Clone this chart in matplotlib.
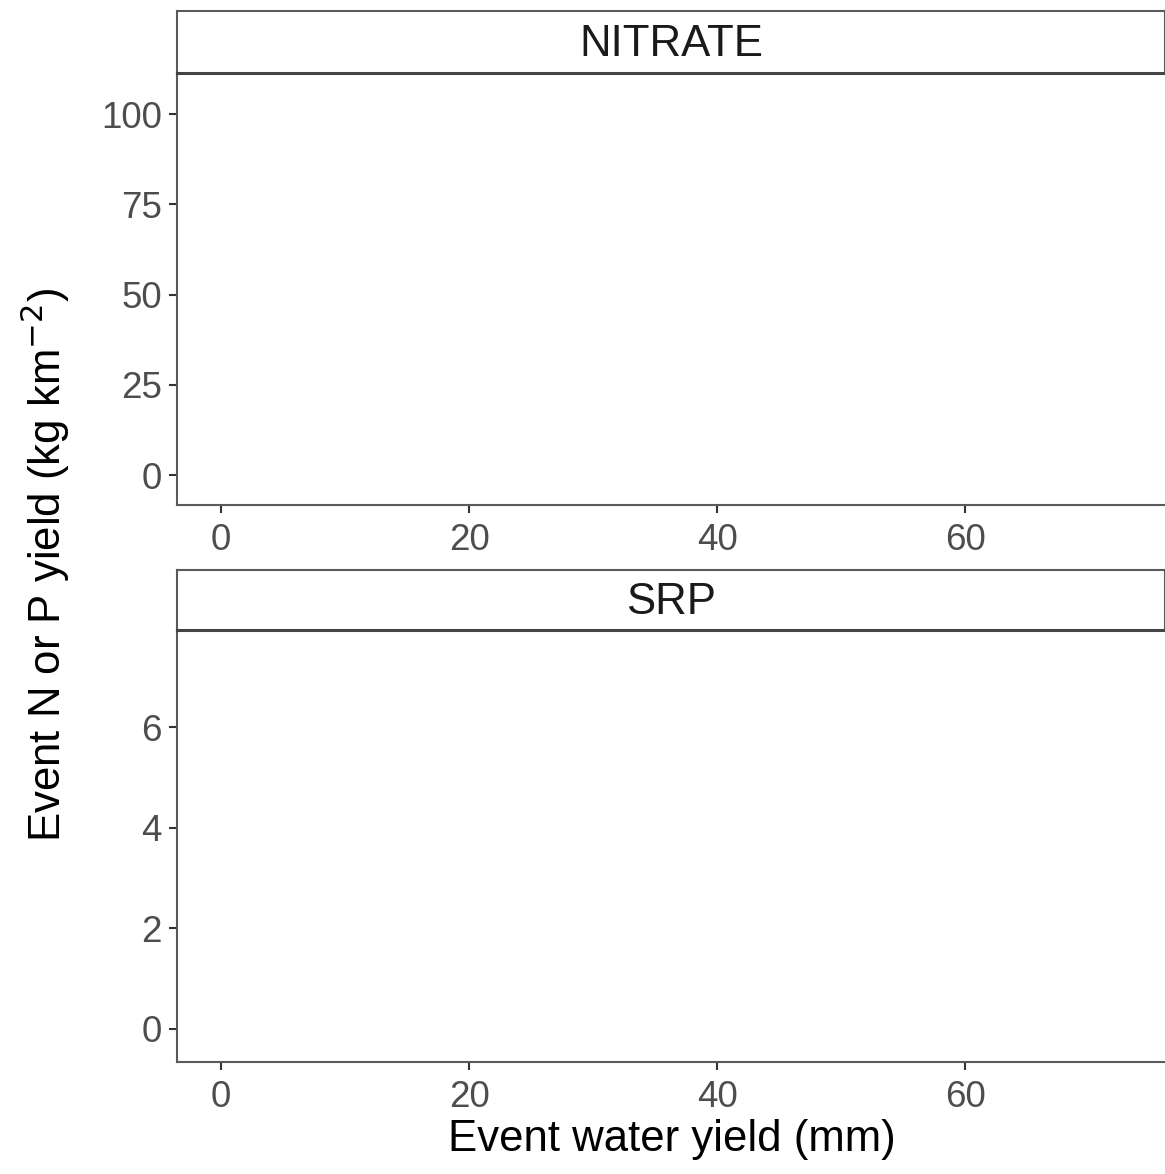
import matplotlib
matplotlib.use('Agg')
import matplotlib.pyplot as plt

plt.rcParams['font.family'] = ['Liberation Sans', 'DejaVu Sans']

# facet panels (no visible points in the source chart)
panels = ['NITRATE', 'SRP']
water_yield = {'NITRATE': [], 'SRP': []}
nutrient_yield = {'NITRATE': [], 'SRP': []}

x_ticks = [0, 20, 40, 60]
x_limits = (-3.55, 76.0)
y_ticks = {'NITRATE': [0, 25, 50, 75, 100], 'SRP': [0, 2, 4, 6]}
y_limits = {'NITRATE': (-8.3, 111.4), 'SRP': (-0.66, 7.93)}

W, H = 1165, 1174
LINE = '#5a5a5a'
TICK_TXT = '#4d4d4d'

fig = plt.figure(figsize=(W / 100, H / 100), dpi=100)


def frac(left, top, right, bottom):
    return [left / W, 1 - bottom / H, (right - left) / W, (bottom - top) / H]


# pixel boxes: (strip top, strip bottom / panel top, panel bottom)
boxes = [(11, 73, 505), (570, 630, 1062)]
left, right = 177, 1164

for name, (s_top, p_top, p_bot) in zip(panels, boxes):
    ax = fig.add_axes(frac(left, p_top, right, p_bot))
    ax.scatter(water_yield[name], nutrient_yield[name], s=20, color='black')
    ax.set_xlim(*x_limits)
    ax.set_ylim(*y_limits[name])
    ax.set_xticks(x_ticks)
    ax.set_yticks(y_ticks[name])
    for side in ('top', 'right'):
        ax.spines[side].set_visible(False)
    for side in ('left', 'bottom'):
        ax.spines[side].set_color(LINE)
        ax.spines[side].set_linewidth(1.5)
    ax.tick_params(length=6, width=1.5, color='#333333', labelsize=26.5,
                   labelcolor=TICK_TXT)
    ax.tick_params(axis='x', pad=7)
    ax.tick_params(axis='y', pad=5)

    strip = fig.add_axes(frac(left, s_top, right + 1, p_top))
    strip.set_xticks([])
    strip.set_yticks([])
    for side, sp in strip.spines.items():
        sp.set_color(LINE)
        sp.set_linewidth(1.5)
    strip.spines['bottom'].set_linewidth(2.2)
    strip.spines['bottom'].set_color('#444444')
    strip.text(0.5, 0.46, name, ha='center', va='center', fontsize=31.5,
               color='#1a1a1a', transform=strip.transAxes)

fig.text(672 / W, 1 - 1140 / H, 'Event water yield (mm)', ha='center',
         va='center', fontsize=31.5, color='black')
fig.text(45 / W, 1 - 565 / H, r'Event N or P yield (kg km$^{-2}$)',
         rotation=90, ha='center', va='center', fontsize=31.5, color='black')

fig.savefig('out.png', dpi=100)
